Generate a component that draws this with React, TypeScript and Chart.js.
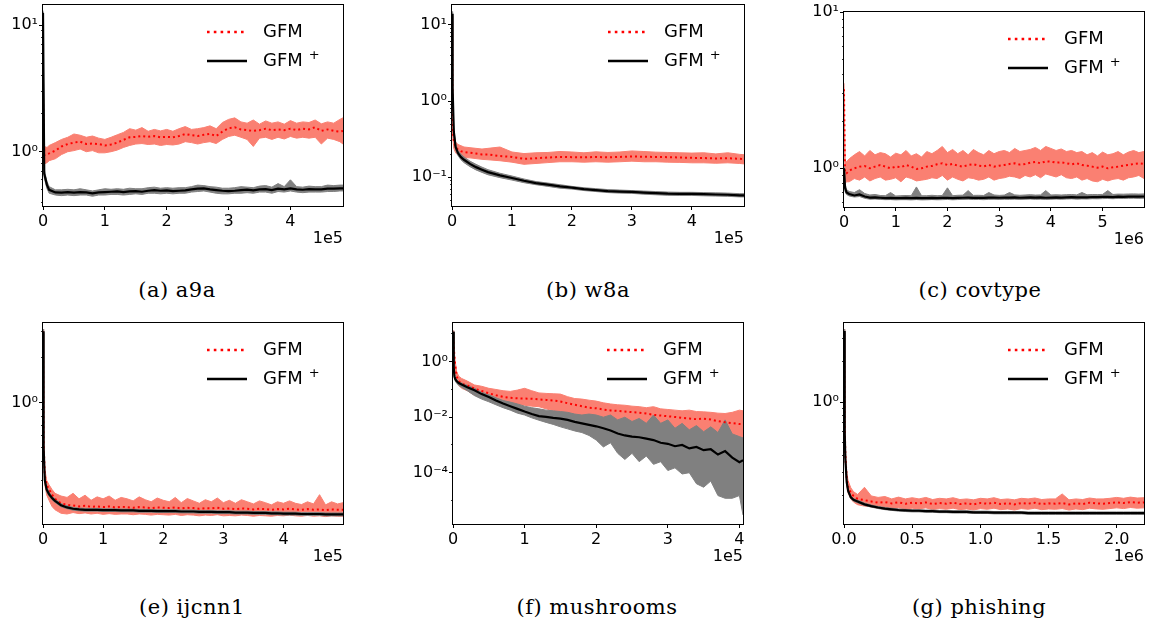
import React, { useEffect, useRef } from 'react';
import { Chart, registerables } from 'chart.js';
Chart.register(...registerables);

// ---------------- (a) a9a ----------------
const aX = [0, 0.02, 0.065, 0.1, 0.2, 0.3, 0.4, 0.5, 0.6, 0.7, 0.8, 0.9, 1.0, 1.1, 1.2, 1.3, 1.4, 1.5, 1.6, 1.7, 1.8, 1.9, 2.0, 2.1, 2.2, 2.3, 2.4, 2.5, 2.6, 2.7, 2.8, 2.9, 3.0, 3.1, 3.2, 3.3, 3.4, 3.5, 3.6, 3.7, 3.8, 3.9, 4.0, 4.1, 4.2, 4.3, 4.4, 4.5, 4.6, 4.7, 4.8, 4.85];
const aGfmMean = [2.6, 0.94, 0.96, 0.97, 1.02, 1.10, 1.15, 1.18, 1.20, 1.15, 1.16, 1.15, 1.12, 1.14, 1.18, 1.24, 1.30, 1.31, 1.33, 1.31, 1.33, 1.30, 1.31, 1.30, 1.33, 1.38, 1.35, 1.33, 1.36, 1.38, 1.33, 1.44, 1.53, 1.56, 1.50, 1.48, 1.46, 1.48, 1.52, 1.48, 1.50, 1.48, 1.52, 1.48, 1.52, 1.50, 1.56, 1.46, 1.50, 1.46, 1.44, 1.46];
const aGfmHi = [3.0, 1.10, 1.08, 1.12, 1.18, 1.25, 1.30, 1.38, 1.35, 1.30, 1.33, 1.28, 1.25, 1.30, 1.36, 1.42, 1.52, 1.48, 1.55, 1.45, 1.50, 1.46, 1.50, 1.45, 1.52, 1.58, 1.50, 1.52, 1.55, 1.60, 1.52, 1.70, 1.80, 1.85, 1.72, 1.68, 1.78, 1.65, 1.75, 1.68, 1.72, 1.65, 1.76, 1.68, 1.72, 1.70, 1.78, 1.66, 1.72, 1.68, 1.80, 1.85];
const aGfmLo = [2.2, 0.80, 0.82, 0.85, 0.88, 0.95, 1.00, 1.02, 1.05, 1.00, 1.02, 0.98, 0.98, 1.00, 1.03, 1.08, 1.12, 1.15, 1.16, 1.14, 1.15, 1.12, 1.14, 1.13, 1.15, 1.20, 1.18, 1.15, 1.18, 1.20, 1.16, 1.25, 1.32, 1.35, 1.30, 1.25, 1.10, 1.28, 1.30, 1.25, 1.30, 1.26, 1.32, 1.28, 1.30, 1.28, 1.30, 1.15, 1.28, 1.25, 1.20, 1.15];
const aPlusMean = [12.5, 0.67, 0.545, 0.50, 0.477, 0.475, 0.480, 0.475, 0.480, 0.477, 0.469, 0.477, 0.480, 0.483, 0.486, 0.480, 0.486, 0.489, 0.483, 0.492, 0.498, 0.492, 0.495, 0.489, 0.492, 0.495, 0.504, 0.511, 0.514, 0.504, 0.498, 0.492, 0.489, 0.492, 0.498, 0.501, 0.495, 0.504, 0.507, 0.498, 0.511, 0.504, 0.514, 0.504, 0.501, 0.507, 0.504, 0.504, 0.511, 0.511, 0.514, 0.514];
const aPlusHi = [13.0, 0.72, 0.58, 0.53, 0.50, 0.50, 0.505, 0.50, 0.51, 0.50, 0.49, 0.50, 0.51, 0.505, 0.51, 0.505, 0.515, 0.51, 0.51, 0.52, 0.525, 0.515, 0.52, 0.515, 0.52, 0.52, 0.53, 0.545, 0.54, 0.53, 0.525, 0.515, 0.515, 0.52, 0.53, 0.525, 0.52, 0.535, 0.54, 0.525, 0.56, 0.53, 0.60, 0.53, 0.525, 0.535, 0.53, 0.53, 0.545, 0.54, 0.545, 0.545];
const aPlusLo = [12.0, 0.62, 0.51, 0.47, 0.455, 0.45, 0.455, 0.45, 0.455, 0.455, 0.445, 0.455, 0.455, 0.46, 0.46, 0.455, 0.46, 0.465, 0.46, 0.47, 0.47, 0.465, 0.47, 0.465, 0.47, 0.47, 0.48, 0.485, 0.49, 0.48, 0.47, 0.465, 0.465, 0.47, 0.47, 0.475, 0.47, 0.48, 0.48, 0.47, 0.485, 0.48, 0.49, 0.48, 0.475, 0.48, 0.48, 0.48, 0.485, 0.485, 0.49, 0.49];

// ---------------- (b) w8a ----------------
const bX = [0, 0.01, 0.03, 0.06, 0.1, 0.15, 0.2, 0.3, 0.4, 0.5, 0.6, 0.8, 1.0, 1.2, 1.4, 1.6, 1.8, 2.0, 2.2, 2.4, 2.6, 2.8, 3.0, 3.2, 3.4, 3.6, 3.8, 4.0, 4.2, 4.4, 4.6, 4.8, 4.87];
const bGfmMean = [12, 0.45, 0.3, 0.25, 0.23, 0.22, 0.215, 0.21, 0.205, 0.2, 0.2, 0.19, 0.185, 0.175, 0.178, 0.182, 0.185, 0.184, 0.183, 0.185, 0.183, 0.185, 0.188, 0.186, 0.185, 0.184, 0.182, 0.18, 0.179, 0.177, 0.178, 0.175, 0.174];
const bGfmHi = [13, 0.6, 0.38, 0.29, 0.27, 0.26, 0.25, 0.245, 0.24, 0.235, 0.24, 0.25, 0.215, 0.205, 0.21, 0.212, 0.218, 0.215, 0.21, 0.216, 0.212, 0.215, 0.222, 0.218, 0.214, 0.212, 0.21, 0.208, 0.21, 0.203, 0.21, 0.2, 0.198];
const bGfmLo = [11, 0.36, 0.24, 0.21, 0.195, 0.188, 0.182, 0.18, 0.176, 0.172, 0.17, 0.165, 0.158, 0.148, 0.152, 0.156, 0.16, 0.16, 0.158, 0.16, 0.158, 0.16, 0.163, 0.16, 0.16, 0.158, 0.157, 0.155, 0.155, 0.153, 0.155, 0.152, 0.15];
const bPlusMean = [14, 1.5, 0.4, 0.25, 0.208, 0.184, 0.17, 0.15, 0.136, 0.126, 0.117, 0.106, 0.098, 0.09, 0.084, 0.08, 0.076, 0.073, 0.07, 0.068, 0.066, 0.065, 0.0645, 0.063, 0.062, 0.061, 0.0606, 0.0606, 0.060, 0.0595, 0.059, 0.058, 0.058];
const bPlusHi = [15, 1.7, 0.45, 0.27, 0.225, 0.2, 0.185, 0.163, 0.148, 0.136, 0.126, 0.113, 0.104, 0.095, 0.088, 0.084, 0.08, 0.076, 0.073, 0.071, 0.069, 0.068, 0.067, 0.066, 0.065, 0.064, 0.0635, 0.0635, 0.063, 0.0625, 0.062, 0.061, 0.061];
const bPlusLo = [13, 1.3, 0.36, 0.23, 0.193, 0.17, 0.156, 0.138, 0.125, 0.116, 0.108, 0.099, 0.092, 0.085, 0.08, 0.076, 0.072, 0.07, 0.067, 0.065, 0.063, 0.062, 0.0615, 0.06, 0.059, 0.058, 0.0578, 0.0578, 0.0572, 0.0567, 0.0562, 0.0553, 0.0553];

// ---------------- (c) covtype ----------------
const cX = [0, 0.02, 0.05, 0.1, 0.2, 0.3, 0.4, 0.5, 0.6, 0.7, 0.8, 0.9, 1.0, 1.1, 1.2, 1.3, 1.4, 1.5, 1.6, 1.7, 1.8, 1.9, 2.0, 2.1, 2.2, 2.3, 2.4, 2.5, 2.6, 2.7, 2.8, 2.9, 3.0, 3.1, 3.2, 3.3, 3.4, 3.5, 3.6, 3.7, 3.8, 3.9, 4.0, 4.1, 4.2, 4.3, 4.4, 4.5, 4.6, 4.7, 4.8, 4.9, 5.0, 5.1, 5.2, 5.3, 5.4, 5.5, 5.6, 5.7, 5.8];
const cGfmMean = [3.2, 0.93, 0.93, 0.966, 1.0, 1.025, 1.035, 1.0, 1.025, 1.05, 1.025, 1.0, 1.025, 1.015, 1.05, 1.025, 0.99, 1.0, 1.025, 1.035, 1.061, 1.077, 1.05, 1.066, 1.04, 1.025, 1.05, 1.061, 1.04, 1.03, 1.05, 1.025, 1.04, 1.05, 1.066, 1.077, 1.056, 1.066, 1.087, 1.098, 1.077, 1.109, 1.104, 1.087, 1.093, 1.077, 1.061, 1.077, 1.05, 1.04, 1.025, 1.01, 1.025, 1.0, 1.015, 1.025, 1.04, 1.05, 1.066, 1.077, 1.066];
const cGfmHi = [3.5, 1.12, 1.1, 1.15, 1.22, 1.28, 1.2, 1.3, 1.22, 1.26, 1.24, 1.18, 1.25, 1.22, 1.3, 1.2, 1.24, 1.18, 1.28, 1.24, 1.3, 1.38, 1.26, 1.32, 1.24, 1.3, 1.22, 1.32, 1.26, 1.22, 1.3, 1.24, 1.28, 1.3, 1.26, 1.34, 1.28, 1.3, 1.32, 1.36, 1.3, 1.38, 1.34, 1.3, 1.33, 1.28, 1.3, 1.26, 1.28, 1.22, 1.26, 1.2, 1.27, 1.22, 1.24, 1.28, 1.22, 1.27, 1.3, 1.26, 1.28];
const cGfmLo = [2.9, 0.8, 0.82, 0.82, 0.86, 0.84, 0.88, 0.83, 0.86, 0.88, 0.84, 0.85, 0.87, 0.82, 0.88, 0.86, 0.83, 0.84, 0.85, 0.87, 0.86, 0.9, 0.84, 0.88, 0.85, 0.83, 0.87, 0.86, 0.84, 0.85, 0.88, 0.84, 0.86, 0.87, 0.89, 0.88, 0.86, 0.9, 0.88, 0.91, 0.87, 0.92, 0.9, 0.88, 0.91, 0.87, 0.86, 0.88, 0.84, 0.86, 0.83, 0.82, 0.85, 0.83, 0.85, 0.86, 0.84, 0.87, 0.88, 0.9, 0.86];
const cPlusMean = [1.0, 0.75, 0.70, 0.685, 0.67, 0.68, 0.66, 0.65, 0.652, 0.648, 0.645, 0.647, 0.644, 0.645, 0.646, 0.644, 0.647, 0.644, 0.645, 0.647, 0.645, 0.646, 0.648, 0.645, 0.647, 0.648, 0.65, 0.647, 0.648, 0.646, 0.649, 0.65, 0.648, 0.65, 0.649, 0.651, 0.648, 0.65, 0.652, 0.649, 0.651, 0.648, 0.65, 0.652, 0.65, 0.652, 0.654, 0.651, 0.653, 0.652, 0.655, 0.654, 0.656, 0.657, 0.655, 0.658, 0.657, 0.659, 0.66, 0.658, 0.66];
const cPlusHi = [1.05, 0.8, 0.73, 0.71, 0.7, 0.73, 0.69, 0.675, 0.68, 0.67, 0.668, 0.7, 0.665, 0.668, 0.67, 0.668, 0.76, 0.667, 0.668, 0.672, 0.668, 0.67, 0.75, 0.668, 0.672, 0.673, 0.72, 0.671, 0.672, 0.67, 0.7, 0.675, 0.671, 0.674, 0.7, 0.676, 0.672, 0.675, 0.678, 0.674, 0.676, 0.72, 0.675, 0.677, 0.675, 0.678, 0.68, 0.676, 0.7, 0.677, 0.68, 0.679, 0.681, 0.72, 0.68, 0.684, 0.683, 0.685, 0.686, 0.684, 0.686];
const cPlusLo = [0.95, 0.71, 0.68, 0.665, 0.655, 0.66, 0.643, 0.634, 0.636, 0.632, 0.63, 0.631, 0.628, 0.63, 0.63, 0.628, 0.631, 0.628, 0.629, 0.631, 0.629, 0.63, 0.632, 0.629, 0.631, 0.632, 0.634, 0.631, 0.632, 0.63, 0.633, 0.634, 0.632, 0.634, 0.633, 0.635, 0.632, 0.634, 0.636, 0.633, 0.635, 0.632, 0.634, 0.636, 0.634, 0.636, 0.638, 0.635, 0.637, 0.636, 0.639, 0.638, 0.64, 0.641, 0.639, 0.642, 0.641, 0.643, 0.644, 0.642, 0.644];

// ---------------- (e) ijcnn1 ----------------
const eX = [0, 0.01, 0.03, 0.06, 0.1, 0.15, 0.2, 0.3, 0.4, 0.5, 0.6, 0.7, 0.8, 0.9, 1.0, 1.1, 1.2, 1.3, 1.4, 1.5, 1.6, 1.7, 1.8, 1.9, 2.0, 2.1, 2.2, 2.3, 2.4, 2.5, 2.6, 2.7, 2.8, 2.9, 3.0, 3.1, 3.2, 3.3, 3.4, 3.5, 3.6, 3.7, 3.8, 3.9, 4.0, 4.1, 4.2, 4.3, 4.4, 4.5, 4.6, 4.7, 4.8, 4.9, 4.99];
const eGfmMean = [3.0, 0.55, 0.32, 0.28, 0.26, 0.24, 0.225, 0.21, 0.205, 0.203, 0.2, 0.202, 0.199, 0.2, 0.198, 0.2, 0.197, 0.199, 0.198, 0.196, 0.198, 0.197, 0.195, 0.197, 0.196, 0.195, 0.197, 0.194, 0.196, 0.195, 0.193, 0.195, 0.194, 0.196, 0.193, 0.194, 0.192, 0.194, 0.193, 0.191, 0.193, 0.192, 0.19, 0.192, 0.191, 0.193, 0.191, 0.19, 0.192, 0.19, 0.191, 0.189, 0.191, 0.19, 0.19];
const eGfmHi = [3.1, 0.6, 0.36, 0.3, 0.28, 0.26, 0.245, 0.235, 0.23, 0.245, 0.225, 0.238, 0.22, 0.232, 0.225, 0.235, 0.22, 0.23, 0.225, 0.218, 0.232, 0.222, 0.215, 0.228, 0.22, 0.215, 0.23, 0.212, 0.226, 0.218, 0.21, 0.222, 0.215, 0.228, 0.212, 0.22, 0.21, 0.222, 0.215, 0.208, 0.218, 0.212, 0.205, 0.215, 0.21, 0.218, 0.21, 0.206, 0.215, 0.208, 0.24, 0.205, 0.215, 0.208, 0.212];
const eGfmLo = [2.9, 0.5, 0.28, 0.24, 0.22, 0.2, 0.19, 0.18, 0.178, 0.182, 0.179, 0.181, 0.178, 0.18, 0.177, 0.179, 0.177, 0.178, 0.178, 0.176, 0.178, 0.177, 0.175, 0.177, 0.176, 0.175, 0.177, 0.174, 0.176, 0.175, 0.173, 0.175, 0.174, 0.176, 0.173, 0.174, 0.173, 0.175, 0.174, 0.172, 0.174, 0.173, 0.172, 0.174, 0.173, 0.175, 0.173, 0.172, 0.174, 0.172, 0.173, 0.171, 0.173, 0.172, 0.172];
const ePlusMean = [3.0, 0.5, 0.3, 0.26, 0.242, 0.228, 0.218, 0.204, 0.197, 0.193, 0.191, 0.19, 0.19, 0.19, 0.189, 0.189, 0.189, 0.188, 0.188, 0.188, 0.187, 0.187, 0.187, 0.186, 0.186, 0.186, 0.186, 0.185, 0.185, 0.185, 0.184, 0.184, 0.184, 0.183, 0.183, 0.183, 0.182, 0.182, 0.182, 0.181, 0.181, 0.181, 0.18, 0.18, 0.179, 0.179, 0.179, 0.178, 0.178, 0.178, 0.178, 0.177, 0.177, 0.177, 0.177];
const ePlusHi = [3.1, 0.52, 0.31, 0.27, 0.25, 0.235, 0.224, 0.209, 0.202, 0.197, 0.195, 0.194, 0.194, 0.194, 0.193, 0.193, 0.193, 0.192, 0.192, 0.192, 0.191, 0.191, 0.191, 0.19, 0.19, 0.19, 0.19, 0.189, 0.189, 0.189, 0.188, 0.188, 0.188, 0.187, 0.187, 0.187, 0.186, 0.186, 0.186, 0.185, 0.185, 0.185, 0.184, 0.184, 0.183, 0.183, 0.183, 0.182, 0.182, 0.182, 0.182, 0.181, 0.181, 0.181, 0.181];
const ePlusLo = [2.9, 0.48, 0.29, 0.25, 0.236, 0.222, 0.213, 0.199, 0.193, 0.189, 0.187, 0.186, 0.186, 0.186, 0.185, 0.185, 0.185, 0.184, 0.184, 0.184, 0.183, 0.183, 0.183, 0.182, 0.182, 0.182, 0.182, 0.181, 0.181, 0.181, 0.18, 0.18, 0.18, 0.179, 0.179, 0.179, 0.178, 0.178, 0.178, 0.177, 0.177, 0.177, 0.176, 0.176, 0.175, 0.175, 0.175, 0.174, 0.174, 0.174, 0.174, 0.173, 0.173, 0.173, 0.173];

// ---------------- (f) mushrooms ----------------
const fX = [0, 0.01, 0.02, 0.03, 0.05, 0.08, 0.12, 0.2, 0.3, 0.4, 0.5, 0.6, 0.7, 0.8, 0.9, 1.0, 1.1, 1.2, 1.3, 1.4, 1.5, 1.6, 1.7, 1.8, 1.9, 2.0, 2.1, 2.2, 2.3, 2.4, 2.5, 2.6, 2.7, 2.8, 2.9, 3.0, 3.1, 3.2, 3.3, 3.4, 3.5, 3.6, 3.7, 3.8, 3.9, 4.0, 4.05];
const fGfmMean = [12, 4, 1.5, 0.8, 0.3, 0.2, 0.16, 0.14, 0.107, 0.088, 0.073, 0.062, 0.054, 0.05, 0.048, 0.047, 0.046, 0.044, 0.042, 0.04, 0.037, 0.032, 0.028, 0.025, 0.022, 0.021, 0.019, 0.0175, 0.017, 0.016, 0.0152, 0.0145, 0.0135, 0.0122, 0.0115, 0.0108, 0.0102, 0.0095, 0.009, 0.0085, 0.0089, 0.0082, 0.0072, 0.0066, 0.0061, 0.0057, 0.0055];
const fGfmHi = [13, 5, 2, 1.1, 0.45, 0.3, 0.25, 0.2, 0.145, 0.13, 0.11, 0.1, 0.09, 0.085, 0.095, 0.11, 0.09, 0.075, 0.072, 0.07, 0.068, 0.055, 0.047, 0.045, 0.041, 0.038, 0.033, 0.03, 0.028, 0.027, 0.025, 0.024, 0.022, 0.024, 0.02, 0.019, 0.018, 0.017, 0.018, 0.016, 0.0156, 0.015, 0.014, 0.0136, 0.015, 0.018, 0.017];
const fGfmLo = [11, 3, 1.1, 0.6, 0.2, 0.14, 0.11, 0.09, 0.062, 0.052, 0.048, 0.04, 0.034, 0.03, 0.028, 0.027, 0.025, 0.024, 0.02, 0.017, 0.015, 0.013, 0.011, 0.0105, 0.009, 0.0088, 0.008, 0.0075, 0.006, 0.005, 0.0055, 0.006, 0.0045, 0.004, 0.0037, 0.0035, 0.0034, 0.003, 0.003, 0.0028, 0.0026, 0.0024, 0.0021, 0.002, 0.0015, 0.0009, 0.0007];
const fPlusMean = [12, 0.6, 0.3, 0.24, 0.2, 0.17, 0.15, 0.12, 0.093, 0.068, 0.053, 0.04, 0.031, 0.025, 0.02, 0.016, 0.013, 0.011, 0.0103, 0.0095, 0.0089, 0.008, 0.0068, 0.006, 0.0053, 0.0047, 0.004, 0.0033, 0.0026, 0.0022, 0.002, 0.0019, 0.0017, 0.0015, 0.0012, 0.0011, 0.0009, 0.001, 0.00075, 0.00085, 0.00065, 0.0007, 0.00045, 0.0006, 0.00035, 0.00024, 0.00028];
const fPlusHi = [13, 0.7, 0.35, 0.28, 0.23, 0.19, 0.17, 0.14, 0.11, 0.08, 0.065, 0.05, 0.04, 0.035, 0.03, 0.025, 0.022, 0.02, 0.018, 0.017, 0.016, 0.015, 0.013, 0.012, 0.013, 0.012, 0.01, 0.012, 0.008, 0.01, 0.007, 0.009, 0.006, 0.012, 0.006, 0.008, 0.004, 0.006, 0.0035, 0.005, 0.003, 0.0045, 0.0028, 0.008, 0.0025, 0.002, 0.0018];
const fPlusLo = [11, 0.5, 0.25, 0.2, 0.17, 0.14, 0.12, 0.09, 0.06, 0.045, 0.036, 0.028, 0.022, 0.018, 0.014, 0.012, 0.0095, 0.0078, 0.0065, 0.0055, 0.0045, 0.0038, 0.0032, 0.0028, 0.0022, 0.0015, 0.00085, 0.0012, 0.0005, 0.0003, 0.0005, 0.00025, 0.0004, 0.0002, 0.00025, 0.00012, 0.00015, 0.00009, 0.0001, 0.00004, 0.00003, 0.00005, 0.000015, 0.000012, 0.000012, 0.000015, 0.000003];

// ---------------- (g) phishing ----------------
const gX = [0, 0.005, 0.01, 0.02, 0.03, 0.05, 0.07, 0.1, 0.15, 0.2, 0.25, 0.3, 0.35, 0.4, 0.45, 0.5, 0.55, 0.6, 0.65, 0.7, 0.75, 0.8, 0.85, 0.9, 0.95, 1.0, 1.05, 1.1, 1.15, 1.2, 1.25, 1.3, 1.35, 1.4, 1.45, 1.5, 1.55, 1.6, 1.65, 1.7, 1.75, 1.8, 1.85, 1.9, 1.95, 2.0, 2.05, 2.1, 2.15, 2.2];
const gGfmMean = [3.4, 0.7, 0.4, 0.27, 0.235, 0.21, 0.2, 0.19, 0.186, 0.182, 0.178, 0.18, 0.176, 0.179, 0.175, 0.178, 0.176, 0.179, 0.174, 0.177, 0.175, 0.178, 0.174, 0.176, 0.173, 0.177, 0.175, 0.178, 0.174, 0.176, 0.173, 0.177, 0.175, 0.178, 0.174, 0.176, 0.175, 0.177, 0.173, 0.176, 0.174, 0.178, 0.176, 0.175, 0.177, 0.179, 0.177, 0.18, 0.178, 0.179];
const gGfmHi = [3.5, 0.8, 0.45, 0.3, 0.26, 0.23, 0.215, 0.205, 0.232, 0.2, 0.195, 0.198, 0.19, 0.196, 0.19, 0.194, 0.19, 0.195, 0.188, 0.192, 0.19, 0.194, 0.188, 0.19, 0.187, 0.192, 0.19, 0.194, 0.188, 0.19, 0.187, 0.192, 0.19, 0.193, 0.188, 0.19, 0.19, 0.207, 0.187, 0.19, 0.188, 0.193, 0.19, 0.19, 0.192, 0.195, 0.192, 0.196, 0.193, 0.194];
const gGfmLo = [3.3, 0.6, 0.35, 0.24, 0.21, 0.19, 0.18, 0.172, 0.168, 0.166, 0.162, 0.164, 0.16, 0.163, 0.16, 0.162, 0.16, 0.163, 0.158, 0.161, 0.159, 0.162, 0.158, 0.16, 0.157, 0.161, 0.159, 0.162, 0.158, 0.16, 0.157, 0.161, 0.159, 0.162, 0.158, 0.16, 0.159, 0.161, 0.157, 0.16, 0.158, 0.162, 0.16, 0.159, 0.161, 0.163, 0.161, 0.164, 0.162, 0.163];
const gPlusMean = [3.4, 0.6, 0.377, 0.253, 0.219, 0.195, 0.187, 0.182, 0.173, 0.168, 0.164, 0.161, 0.159, 0.157, 0.156, 0.155, 0.155, 0.154, 0.154, 0.153, 0.153, 0.152, 0.152, 0.152, 0.151, 0.151, 0.151, 0.15, 0.15, 0.15, 0.15, 0.15, 0.149, 0.149, 0.149, 0.149, 0.149, 0.149, 0.149, 0.149, 0.149, 0.149, 0.149, 0.149, 0.149, 0.149, 0.149, 0.149, 0.149, 0.149];
const gPlusHi = [3.5, 0.65, 0.39, 0.26, 0.225, 0.2, 0.191, 0.186, 0.177, 0.171, 0.167, 0.164, 0.162, 0.16, 0.159, 0.158, 0.158, 0.157, 0.157, 0.156, 0.156, 0.155, 0.155, 0.155, 0.154, 0.154, 0.154, 0.153, 0.153, 0.153, 0.153, 0.153, 0.152, 0.152, 0.152, 0.152, 0.152, 0.152, 0.152, 0.152, 0.152, 0.152, 0.152, 0.152, 0.152, 0.152, 0.152, 0.152, 0.152, 0.152];
const gPlusLo = [3.3, 0.56, 0.365, 0.246, 0.214, 0.191, 0.183, 0.178, 0.17, 0.165, 0.161, 0.158, 0.156, 0.154, 0.153, 0.152, 0.152, 0.151, 0.151, 0.15, 0.15, 0.149, 0.149, 0.149, 0.148, 0.148, 0.148, 0.147, 0.147, 0.147, 0.147, 0.147, 0.146, 0.146, 0.146, 0.146, 0.146, 0.146, 0.146, 0.146, 0.146, 0.146, 0.146, 0.146, 0.146, 0.146, 0.146, 0.146, 0.146, 0.146];

// ---------------- ticks / labels ----------------
const intTicks4 = [0, 1, 2, 3, 4];
const intLabels4 = ['0', '1', '2', '3', '4'];
const intTicks5 = [0, 1, 2, 3, 4, 5];
const intLabels5 = ['0', '1', '2', '3', '4', '5'];
const gXTicks = [0, 0.5, 1.0, 1.5, 2.0];
const gXLabels = ['0.0', '0.5', '1.0', '1.5', '2.0'];
const seriesLabels = ['GFM', 'GFM⁺'];

const FONT = '"DejaVu Sans"';
const RED = '#ff0000';
const SALMON = 'rgb(250,128,114)';
const GRAY = 'rgb(128,128,128)';
const Y_W = 43, PAD_T = 20, PAD_R = 12, X_H = 45;

type Spec = {
  caption: string; cx: number; cy: number; box: number[];
  x: number[]; gm: number[]; gh: number[]; gl: number[]; pm: number[]; ph: number[]; pl: number[];
  xMax: number; xTicks: number[]; xLabels: string[]; xExp: string;
  yMin: number; yMax: number; yMajor: number[]; yLabels: string[]; subs: boolean;
};

const panels: Spec[] = [
  { caption: '(a) a9a', cx: 177, cy: 290, box: [43, 5, 343, 206], x: aX, gm: aGfmMean, gh: aGfmHi, gl: aGfmLo, pm: aPlusMean, ph: aPlusHi, pl: aPlusLo,
    xMax: 4.85, xTicks: intTicks4, xLabels: intLabels4, xExp: '1e5', yMin: 0.3727, yMax: 14.4, yMajor: [1, 10], yLabels: ['10⁰', '10¹'], subs: true },
  { caption: '(b) w8a', cx: 588, cy: 290, box: [452, 5, 744, 206], x: bX, gm: bGfmMean, gh: bGfmHi, gl: bGfmLo, pm: bPlusMean, ph: bPlusHi, pl: bPlusLo,
    xMax: 4.87, xTicks: intTicks4, xLabels: intLabels4, xExp: '1e5', yMin: 0.042, yMax: 18.3, yMajor: [0.1, 1, 10], yLabels: ['10⁻¹', '10⁰', '10¹'], subs: true },
  { caption: '(c) covtype', cx: 980, cy: 290, box: [844, 12, 1144, 207], x: cX, gm: cGfmMean, gh: cGfmHi, gl: cGfmLo, pm: cPlusMean, ph: cPlusHi, pl: cPlusLo,
    xMax: 5.8, xTicks: intTicks5, xLabels: intLabels5, xExp: '1e6', yMin: 0.5655, yMax: 10, yMajor: [1, 10], yLabels: ['10⁰', '10¹'], subs: true },
  { caption: '(e) ijcnn1', cx: 192, cy: 607, box: [43, 323, 343, 524], x: eX, gm: eGfmMean, gh: eGfmHi, gl: eGfmLo, pm: ePlusMean, ph: ePlusHi, pl: ePlusLo,
    xMax: 4.99, xTicks: intTicks4, xLabels: intLabels4, xExp: '1e5', yMin: 0.1525, yMax: 3.41, yMajor: [1], yLabels: ['10⁰'], subs: true },
  { caption: '(f) mushrooms', cx: 597, cy: 607, box: [453, 323, 743, 524], x: fX, gm: fGfmMean, gh: fGfmHi, gl: fGfmLo, pm: fPlusMean, ph: fPlusHi, pl: fPlusLo,
    xMax: 4.05, xTicks: intTicks4, xLabels: intLabels4, xExp: '1e5', yMin: 1.42e-6, yMax: 24.8, yMajor: [1e-4, 1e-2, 1], yLabels: ['10⁻⁴', '10⁻²', '10⁰'], subs: false },
  { caption: '(g) phishing', cx: 979, cy: 607, box: [844, 323, 1144, 524], x: gX, gm: gGfmMean, gh: gGfmHi, gl: gGfmLo, pm: gPlusMean, ph: gPlusHi, pl: gPlusLo,
    xMax: 2.2, xTicks: gXTicks, xLabels: gXLabels, xExp: '1e6', yMin: 0.1235, yMax: 3.9, yMajor: [1], yLabels: ['10⁰'], subs: true },
];

function minorTicks(min: number, max: number, majors: number[], subs: boolean) {
  const out: number[] = [];
  const e0 = Math.floor(Math.log10(min));
  const e1 = Math.ceil(Math.log10(max));
  const ks = subs ? [1, 2, 3, 4, 5, 6, 7, 8, 9] : [1];
  for (let e = e0; e <= e1; e++) {
    for (const k of ks) {
      const v = k * Math.pow(10, e);
      if (v < min || v > max) continue;
      if (majors.some((m) => Math.abs(m - v) / m < 1e-6)) continue;
      out.push(v);
    }
  }
  return out;
}

const pts = (xs: number[], ys: number[]) => xs.map((x, i) => ({ x, y: ys[i] }));

const framePlugin = {
  id: 'frameLegend',
  afterDraw(chart: any) {
    const { ctx, chartArea: a } = chart;
    ctx.save();
    ctx.setLineDash([]);
    ctx.strokeStyle = '#000';
    ctx.lineWidth = 1;
    ctx.strokeRect(a.left - 0.5, a.top - 0.5, a.right - a.left + 1, a.bottom - a.top + 1);
    const items = chart.data.datasets.filter((d: any) => !String(d.label).startsWith('_'));
    const rows = [27, 56];
    items.forEach((d: any, i: number) => {
      const y = a.top + rows[i];
      ctx.beginPath();
      ctx.strokeStyle = d.borderColor;
      ctx.lineWidth = 2.6;
      ctx.setLineDash(d.borderDash && d.borderDash.length ? [2.6, 4.2] : []);
      ctx.moveTo(a.right - 136, y);
      ctx.lineTo(a.right - 96, y);
      ctx.stroke();
      ctx.setLineDash([]);
      ctx.fillStyle = '#000';
      ctx.textBaseline = 'middle';
      ctx.textAlign = 'left';
      ctx.font = `18px ${FONT}`;
      const label = String(d.label);
      const hasSup = label.endsWith('⁺');
      const base = hasSup ? label.slice(0, -1) : label;
      ctx.fillText(base, a.right - 80, y);
      if (hasSup) {
        const w = ctx.measureText(base).width;
        ctx.font = `13px ${FONT}`;
        ctx.fillText('+', a.right - 80 + w + 6, y - 5);
      }
    });
    ctx.restore();
  },
};

function Panel({ p }: { p: Spec }) {
  const ref = useRef<HTMLCanvasElement>(null);
  const [L, T, R, B] = p.box;
  const w = R - L + Y_W + PAD_R;
  const h = B - T + PAD_T + X_H;
  useEffect(() => {
    const minors = minorTicks(p.yMin, p.yMax, p.yMajor, p.subs);
    const tickFont = { family: FONT, size: 16 };
    const chart = new Chart(ref.current as HTMLCanvasElement, {
      type: 'line',
      data: {
        datasets: [
          { label: seriesLabels[0], data: pts(p.x, p.gm), borderColor: RED, borderWidth: 2, borderDash: [2, 3], pointRadius: 0, fill: false, tension: 0, order: 1 },
          { label: seriesLabels[1], data: pts(p.x, p.pm), borderColor: '#000', borderWidth: 2.2, pointRadius: 0, fill: false, tension: 0, order: 0 },
          { label: '_plusHi', data: pts(p.x, p.ph), borderColor: GRAY, backgroundColor: GRAY, borderWidth: 1, pointRadius: 0, fill: 3, tension: 0, order: 2 },
          { label: '_plusLo', data: pts(p.x, p.pl), borderColor: GRAY, borderWidth: 1, pointRadius: 0, fill: false, tension: 0, order: 2 },
          { label: '_gfmHi', data: pts(p.x, p.gh), borderColor: SALMON, backgroundColor: SALMON, borderWidth: 1, pointRadius: 0, fill: 5, tension: 0, order: 3 },
          { label: '_gfmLo', data: pts(p.x, p.gl), borderColor: SALMON, borderWidth: 1, pointRadius: 0, fill: false, tension: 0, order: 3 },
        ] as any,
      },
      options: {
        animation: false,
        responsive: false,
        maintainAspectRatio: false,
        devicePixelRatio: 1,
        events: [],
        layout: { padding: { left: 0, top: PAD_T, right: PAD_R, bottom: 0 } },
        plugins: { legend: { display: false }, tooltip: { enabled: false }, title: { display: false } },
        scales: {
          x: {
            type: 'linear',
            min: 0,
            max: p.xMax,
            afterBuildTicks: (s: any) => { s.ticks = p.xTicks.map((v) => ({ value: v })); },
            afterFit: (s: any) => { s.height = X_H; },
            ticks: { autoSkip: false, maxRotation: 0, padding: 2, color: '#000', font: tickFont, callback: (_v: any, i: number) => p.xLabels[i] },
            grid: { display: true, drawOnChartArea: false, drawTicks: true, tickLength: 4, tickColor: '#000', tickWidth: 1 },
            border: { display: false },
            title: { display: true, text: p.xExp, align: 'end', color: '#000', font: tickFont, padding: { top: 0, bottom: 3 } },
          },
          y: {
            type: 'logarithmic',
            position: 'left',
            weight: 1,
            min: p.yMin,
            max: p.yMax,
            afterBuildTicks: (s: any) => { s.ticks = p.yMajor.map((v) => ({ value: v })); },
            afterFit: (s: any) => { s.width = Y_W; },
            ticks: { autoSkip: false, padding: 1, color: '#000', font: tickFont, callback: (_v: any, i: number) => p.yLabels[i] },
            grid: { display: true, drawOnChartArea: false, drawTicks: true, tickLength: 4, tickColor: '#000', tickWidth: 1 },
            border: { display: false },
          },
          yMinor: {
            type: 'logarithmic',
            position: 'left',
            weight: 0,
            min: p.yMin,
            max: p.yMax,
            afterBuildTicks: (s: any) => { s.ticks = minors.map((v) => ({ value: v })); },
            afterFit: (s: any) => { s.width = 0; },
            ticks: { display: false, autoSkip: false, callback: () => '' },
            grid: { display: true, drawOnChartArea: false, drawTicks: true, tickLength: 2, tickColor: '#000', tickWidth: 0.8 },
            border: { display: false },
          },
        } as any,
      },
      plugins: [framePlugin],
    } as any);
    return () => chart.destroy();
  }, []);
  return (
    <canvas
      ref={ref}
      width={w}
      height={h}
      style={{ position: 'absolute', left: L - Y_W, top: T - PAD_T, width: w, height: h }}
    />
  );
}

export default function App() {
  return (
    <div style={{ position: 'absolute', left: 0, top: 0, width: 1151, height: 622, background: '#fff', overflow: 'hidden' }}>
      {panels.map((p) => (
        <Panel key={p.caption} p={p} />
      ))}
      {panels.map((p) => (
        <div
          key={'c' + p.caption}
          style={{
            position: 'absolute',
            left: p.cx,
            top: p.cy - 12,
            transform: 'translateX(-50%)',
            whiteSpace: 'nowrap',
            fontFamily: '"DejaVu Serif"',
            fontSize: 21,
            lineHeight: '24px',
            letterSpacing: 0.5,
            color: '#000',
          }}
        >
          {p.caption}
        </div>
      ))}
    </div>
  );
}
